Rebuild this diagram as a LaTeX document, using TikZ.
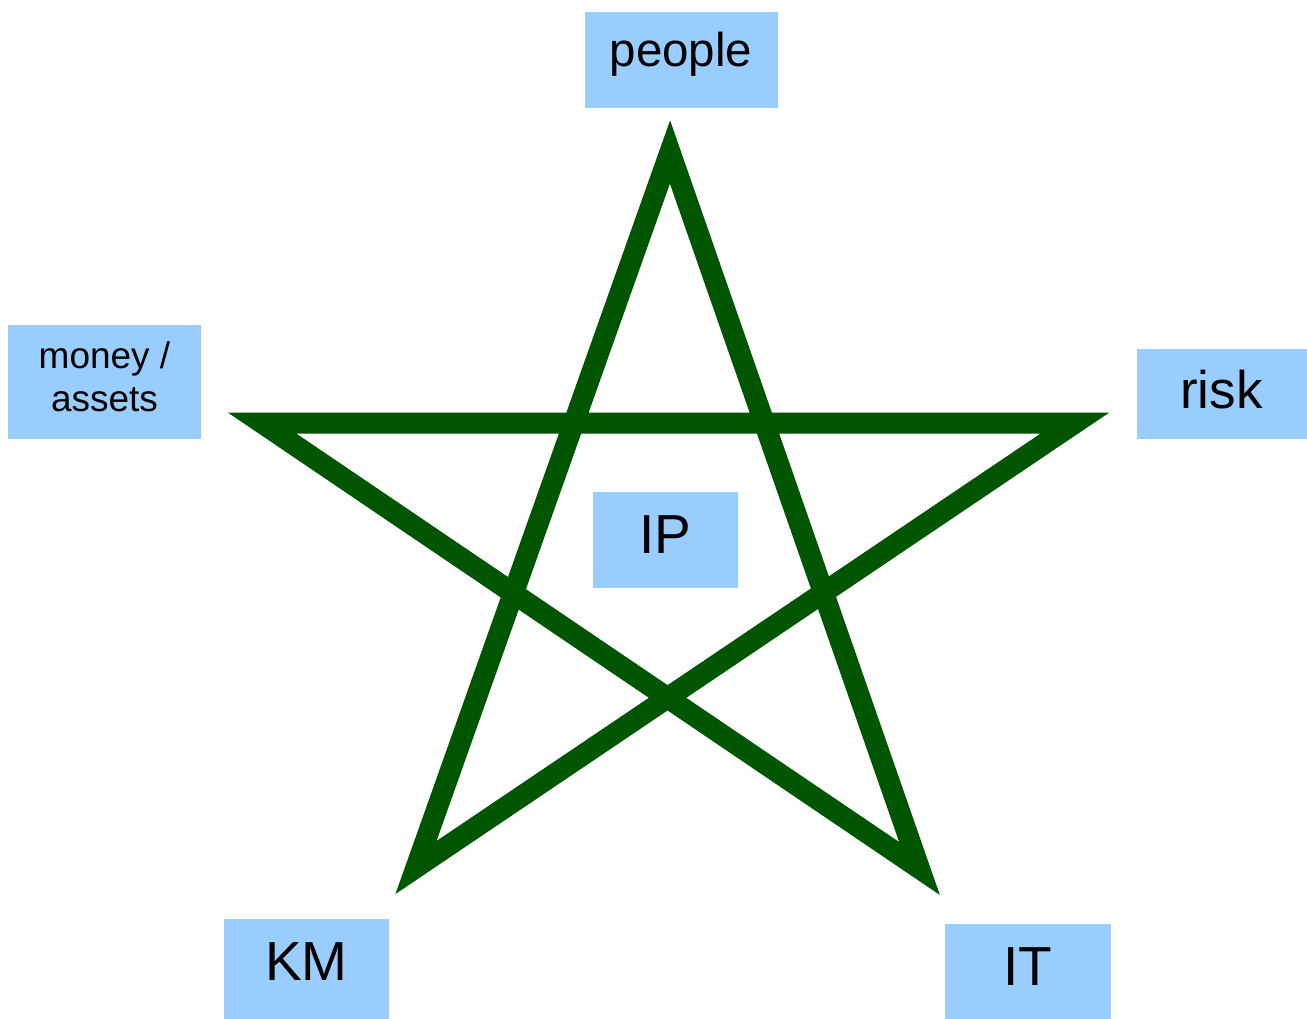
\documentclass[tikz,border=0pt]{standalone}
\usepackage{fontspec}
\setmainfont{Liberation Sans}
\begin{document}
\begin{tikzpicture}[x=1pt,y=-1pt,
  tile/.style={fill=tileblue, draw=none, inner sep=0pt, anchor=north west},
  caption/.style={anchor=base, inner sep=0pt, text=black},
  starline/.style={draw=stargreen, line width=21pt, line join=miter, miter limit=10}]
\definecolor{tileblue}{RGB}{153,204,255}
\definecolor{stargreen}{RGB}{0,85,0}
\useasboundingbox (0,0) rectangle (1307,1019);

% pentagram centre-line corners
\coordinate (top) at (670,152);
\coordinate (lft) at (262,423);
\coordinate (rgt) at (1075,423);
\coordinate (bl)  at (416,867.5);
\coordinate (br)  at (919.5,868.5);
\draw[starline] (top) -- (bl) -- (rgt) -- (lft) -- (br) -- cycle;

% labelled tiles
\node[tile, minimum width=193, minimum height=96] (peopleTile) at (585,12) {};
\node[caption, font=\fontsize{47.5}{47.5}\selectfont] (people) at (681,67) {people};

\node[tile, minimum width=193, minimum height=114] (moneyTile) at (8,325) {};
\node[caption, font=\fontsize{37}{43}\selectfont, align=center] (money) at (104.5,411) {money /\\assets};

\node[tile, minimum width=170, minimum height=90] (riskTile) at (1137,349) {};
\node[caption, font=\fontsize{53}{53}\selectfont] (risk) at (1221.5,408) {risk};

\node[tile, minimum width=145, minimum height=96] (ipTile) at (593,492) {};
\node[caption, font=\fontsize{55}{55}\selectfont] (ip) at (665.5,553) {IP};

\node[tile, minimum width=165, minimum height=100] (kmTile) at (224,919) {};
\node[caption, font=\fontsize{55}{55}\selectfont] (km) at (306.5,980) {KM};

\node[tile, minimum width=166, minimum height=95] (itTile) at (945,924) {};
\node[caption, font=\fontsize{55}{55}\selectfont] (it) at (1027.5,985) {IT};
\end{tikzpicture}
\end{document}
